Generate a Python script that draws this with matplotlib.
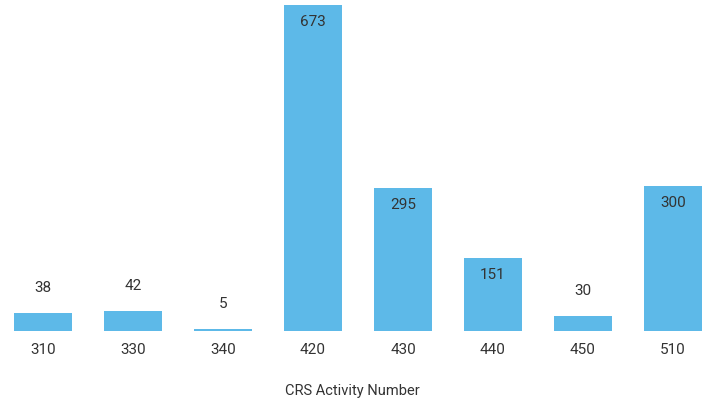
import matplotlib
matplotlib.use('Agg')
import matplotlib.pyplot as plt

plt.rcParams['font.family']=['Roboto','DejaVu Sans']

# activity numbers and counts
activities=['310','330','340','420','430','440','450','510']
counts=[38,42,5,673,295,151,30,300]

bar_color='#5db9e8'
text_color='#333333'

fig=plt.figure(figsize=(7.04,4.0),dpi=100)
ax=fig.add_axes([0,(400-331)/400,1,331/400])

x=list(range(len(activities)))
ax.bar(x,counts,width=0.644,color=bar_color,zorder=2)

ymax=673*331/326
ax.set_ylim(0,ymax)
ax.set_xlim(-43/90,(704-43)/90)

px=ymax/331  # data units per pixel
for xi,v in zip(x,counts):
    if v>100:
        ax.text(xi,v-17*px,str(v),ha='center',va='center',fontsize=11,color=text_color)
    else:
        ax.text(xi,v+25*px,str(v),ha='center',va='center',fontsize=11,color=text_color)

ax.set_xticks(x)
ax.set_xticklabels(activities,fontsize=11,color=text_color)
ax.tick_params(axis='x',length=0,pad=9)
ax.set_yticks([])
for s in ax.spines.values():
    s.set_visible(False)

fig.text(0.5,1-391/400,'CRS Activity Number',ha='center',va='center',fontsize=10.5,color=text_color)

fig.savefig('out.png',dpi=100)
